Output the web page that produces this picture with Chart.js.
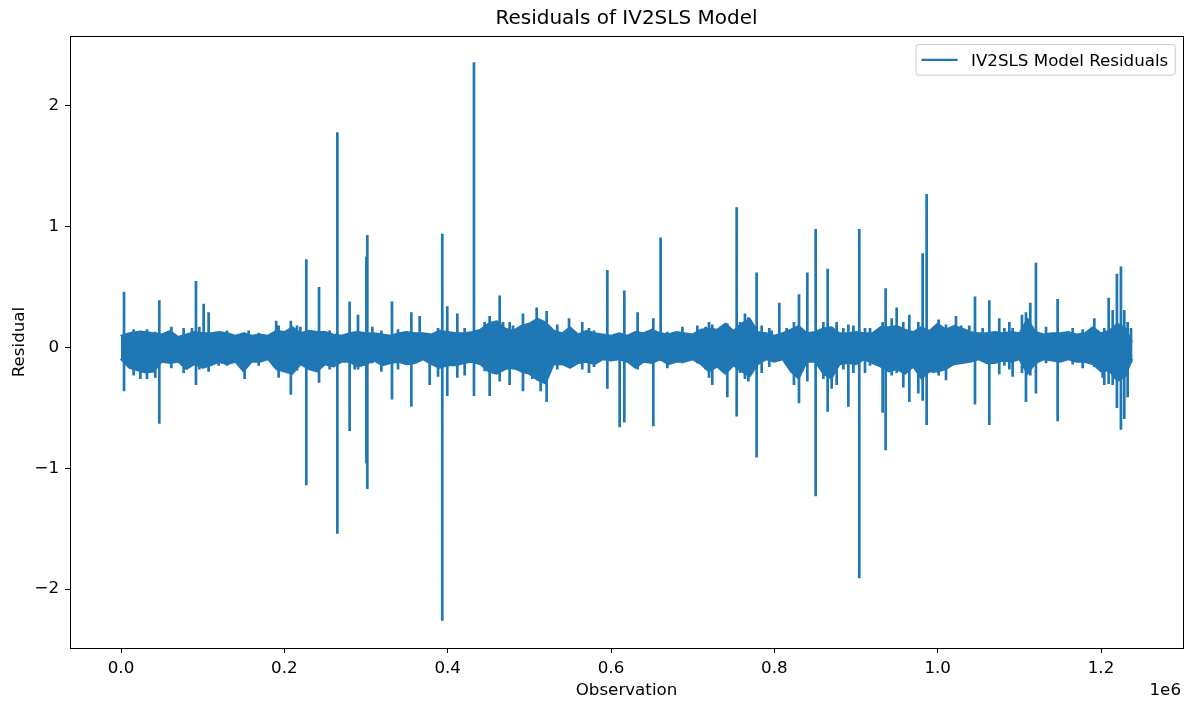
<!DOCTYPE html>
<html><head><meta charset="utf-8">
<script src="https://cdn.jsdelivr.net/npm/chart.js@4.4.1/dist/chart.umd.min.js"></script>
<style>html,body{margin:0;padding:0;background:#fff;overflow:hidden}canvas{display:block}</style>
</head><body>
<canvas id="c" width="1192" height="704"></canvas>
<script>
const chartTitle = 'Residuals of IV2SLS Model';
const seriesLabel = 'IV2SLS Model Residuals';
const xAxisLabel = 'Observation';
const yAxisLabel = 'Residual';
const xOffsetLabel = '1e6';
const xTickValues = [0, 200000, 400000, 600000, 800000, 1000000, 1200000];
const yTickValues = [-2, -1, 0, 1, 2];

// envelope of the dense residual band (observation, upper, lower)
const bandObs = [0,10000,20000,30000,40000,50000,60000,70000,80000,90000,
  100000,110000,120000,130000,140000,150000,160000,170000,180000,190000,
  200000,210000,220000,230000,240000,250000,260000,270000,280000,290000,
  300000,310000,320000,330000,340000,350000,360000,370000,380000,390000,
  400000,410000,420000,430000,440000,450000,460000,470000,480000,490000,
  500000,510000,520000,530000,540000,550000,560000,570000,580000,590000,
  600000,610000,620000,630000,640000,650000,660000,670000,680000,690000,
  700000,710000,720000,730000,740000,750000,760000,770000,780000,790000,
  800000,810000,820000,830000,840000,850000,860000,870000,880000,890000,
  900000,910000,920000,930000,940000,950000,960000,970000,980000,990000,
  1000000,1010000,1020000,1030000,1040000,1050000,1060000,1070000,1080000,1090000,
  1100000,1110000,1120000,1130000,1140000,1150000,1160000,1170000,1180000,1190000,
  1200000,1210000,1220000,1230000,1238000];
const bandUpper = [0.10,0.12,0.13,0.13,0.12,0.11,0.14,0.09,0.11,0.13,0.12,0.12,0.13,0.12,0.10,0.12,0.10,0.11,0.10,0.14,0.13,0.17,0.12,0.14,0.13,
  0.13,0.11,0.10,0.12,0.13,0.12,0.12,0.11,0.10,0.12,0.13,0.12,0.12,0.11,0.14,0.13,0.12,0.12,0.13,0.15,0.20,0.22,0.16,0.14,0.18,
  0.20,0.24,0.21,0.14,0.12,0.17,0.11,0.14,0.12,0.11,0.10,0.12,0.10,0.13,0.12,0.15,0.12,0.11,0.13,0.12,0.11,0.15,0.16,0.15,0.20,
  0.14,0.20,0.24,0.13,0.12,0.10,0.12,0.15,0.18,0.12,0.13,0.16,0.17,0.12,0.12,0.13,0.12,0.12,0.17,0.17,0.18,0.15,0.13,0.17,0.14,
  0.20,0.15,0.18,0.16,0.13,0.12,0.12,0.13,0.12,0.13,0.12,0.24,0.13,0.11,0.12,0.12,0.13,0.11,0.12,0.17,0.12,0.14,0.20,0.16,0.05];
const bandLower = [-0.10,-0.17,-0.19,-0.21,-0.20,-0.12,-0.13,-0.12,-0.18,-0.14,-0.17,-0.15,-0.12,-0.14,-0.12,-0.20,-0.12,-0.12,-0.10,-0.18,-0.20,-0.22,-0.14,-0.18,-0.20,
  -0.14,-0.16,-0.12,-0.12,-0.16,-0.14,-0.11,-0.15,-0.13,-0.12,-0.14,-0.13,-0.10,-0.14,-0.17,-0.15,-0.15,-0.13,-0.12,-0.14,-0.20,-0.22,-0.18,-0.17,-0.20,
  -0.22,-0.27,-0.30,-0.14,-0.14,-0.17,-0.13,-0.12,-0.14,-0.10,-0.11,-0.10,-0.12,-0.17,-0.12,-0.13,-0.10,-0.14,-0.12,-0.12,-0.10,-0.14,-0.20,-0.16,-0.22,
  -0.15,-0.20,-0.24,-0.14,-0.10,-0.12,-0.10,-0.20,-0.26,-0.12,-0.12,-0.22,-0.26,-0.14,-0.13,-0.14,-0.10,-0.13,-0.16,-0.20,-0.18,-0.22,-0.16,-0.26,-0.20,
  -0.20,-0.18,-0.14,-0.13,-0.12,-0.10,-0.13,-0.13,-0.11,-0.12,-0.10,-0.22,-0.13,-0.10,-0.11,-0.12,-0.10,-0.12,-0.12,-0.14,-0.20,-0.19,-0.28,-0.24,-0.10];

// individual excursions (observation, peak, trough)
const spikeObs = [3700,15500,23700,31800,42000,46900,61600,76700,86900,91800,
  95900,101200,107300,119600,129800,151400,156300,168600,190000,193000,
  208000,215500,219600,226900,242500,255500,264900,280000,286100,290200,
  300500,301600,307800,318800,331800,339200,348200,355500,365700,378000,
  388200,393400,399500,411800,420800,432200,445300,451400,463700,467800,
  475900,480000,492200,503700,509000,513900,521200,534200,548600,564800,
  573000,579200,595500,610600,616300,632600,651800,660800,669000,687400,
  705700,715900,720000,724000,742400,753900,758000,764000,768200,778300,
  784500,793800,796700,806100,815100,824000,830200,840400,850600,860000,
  865300,870200,876300,884500,890600,896800,904000,911000,917200,932600,
  936300,943700,949800,957900,965300,976300,981600,986500,994700,1001200,
  1010200,1016300,1022400,1028600,1038700,1045700,1055100,1063200,1075400,1081700,
  1087800,1091800,1103200,1108100,1113400,1120300,1132700,1146900,1165300,1177600,
  1191800,1202000,1204000,1209400,1214300,1219500,1224400,1228500,1232600,1236700];
const spikeTop = [0.45,0.14,0.13,0.14,0.12,0.38,0.16,0.15,0.15,0.54,
  0.16,0.35,0.28,0.12,0.13,0.11,0.13,0.11,0.21,0.17,
  0.21,0.17,0.16,0.72,0.49,0.13,1.77,0.37,0.12,0.26,
  0.74,0.92,0.16,0.13,0.37,0.14,0.12,0.28,0.25,0.05,
  0.15,0.93,0.33,0.27,0.15,2.35,0.20,0.25,0.42,0.20,
  0.20,0.17,0.27,0.20,0.32,0.10,0.29,0.18,0.23,0.20,
  0.15,0.13,0.63,0.10,0.46,0.28,0.23,0.90,0.12,0.16,
  0.17,0.16,0.20,0.18,0.19,1.15,0.20,0.27,0.24,0.61,
  0.17,0.15,0.13,0.36,0.15,0.20,0.43,0.61,0.97,0.20,
  0.64,0.15,0.20,0.15,0.18,0.17,0.97,0.15,0.15,0.20,
  0.48,0.23,0.32,0.20,0.26,0.20,0.77,1.26,0.15,0.22,
  0.18,0.14,0.25,0.17,0.17,0.41,0.15,0.38,0.23,0.15,
  0.20,0.15,0.26,0.28,0.36,0.69,0.16,0.39,0.15,0.14,
  0.23,0.10,0.15,0.40,0.30,0.60,0.66,0.30,0.20,0.15];
const spikeBottom = [-0.35,-0.22,-0.25,-0.25,-0.24,-0.62,-0.16,-0.20,-0.10,-0.30,
  -0.17,-0.05,-0.19,-0.14,-0.14,-0.25,-0.10,-0.14,-0.15,-0.24,
  -0.38,-0.18,-0.12,-1.13,-0.28,-0.17,-1.53,-0.68,-0.17,-0.17,
  -0.95,-1.16,-0.12,-0.19,-0.42,-0.17,-0.13,-0.48,-0.10,-0.30,
  -0.23,-2.25,-0.39,-0.24,-0.22,-0.39,-0.185,-0.39,-0.27,-0.185,
  -0.30,-0.17,-0.35,-0.25,-0.20,-0.35,-0.44,-0.17,-0.15,-0.17,
  -0.20,-0.15,-0.33,-0.65,-0.61,-0.17,-0.64,-0.10,-0.16,-0.12,
  -0.12,-0.17,-0.24,-0.30,-0.40,-0.56,-0.20,-0.25,-0.27,-0.90,
  -0.20,-0.15,-0.10,-0.10,-0.13,-0.30,-0.45,-0.27,-1.22,-0.25,
  -0.52,-0.33,-0.30,-0.17,-0.48,-0.20,-1.90,-0.20,-0.14,-0.53,
  -0.84,-0.22,-0.20,-0.32,-0.44,-0.37,-0.43,-0.63,-0.20,-0.22,
  -0.26,-0.12,-0.10,-0.12,-0.10,-0.46,-0.10,-0.63,-0.21,-0.14,
  -0.17,-0.23,-0.20,-0.44,-0.22,-0.37,-0.12,-0.60,-0.13,-0.16,
  -0.15,-0.24,-0.30,-0.29,-0.30,-0.49,-0.67,-0.58,-0.40,-0.12];

const BLUE = '#1f77b4';
const FONT = '"DejaVu Sans", "Liberation Sans", sans-serif';
const LABEL_PX = 16.7;
const TITLE_PX = 20;

const upperPts = bandObs.map((x, i) => ({x: x, y: bandUpper[i]}));
const lowerPts = bandObs.map((x, i) => ({x: x, y: bandLower[i]}));
const spikePts = [];
spikeObs.forEach((x, i) => {
  spikePts.push({x: x, y: spikeTop[i]}, {x: x, y: spikeBottom[i]}, {x: x, y: null});
});

const deco = {
  id: 'deco',
  afterDraw(chart) {
    const ctx = chart.ctx, a = chart.chartArea;
    ctx.save();
    // frame (all four spines)
    ctx.strokeStyle = '#000';
    ctx.lineWidth = 1;
    ctx.strokeRect(Math.round(a.left) + 0.5, Math.round(a.top) + 0.5,
      Math.round(a.right) - Math.round(a.left), Math.round(a.bottom) - Math.round(a.top));
    ctx.fillStyle = '#000';
    // title
    ctx.font = TITLE_PX + 'px ' + FONT;
    ctx.textAlign = 'center';
    ctx.textBaseline = 'alphabetic';
    ctx.fillText(chartTitle, (a.left + a.right) / 2, 24);
    // axis labels
    ctx.font = LABEL_PX + 'px ' + FONT;
    ctx.fillText(xAxisLabel, (a.left + a.right) / 2, 695);
    ctx.textAlign = 'right';
    ctx.fillText(xOffsetLabel, a.right - 2, 695);
    ctx.save();
    ctx.translate(23.5, (a.top + a.bottom) / 2);
    ctx.rotate(-Math.PI / 2);
    ctx.textAlign = 'center';
    ctx.fillText(yAxisLabel, 0, 0);
    ctx.restore();
    // legend
    const bx = a.right - 267, by = a.top + 8.5, bw = 259.3, bh = 30.7, r = 3;
    ctx.beginPath();
    ctx.moveTo(bx + r, by);
    ctx.lineTo(bx + bw - r, by); ctx.quadraticCurveTo(bx + bw, by, bx + bw, by + r);
    ctx.lineTo(bx + bw, by + bh - r); ctx.quadraticCurveTo(bx + bw, by + bh, bx + bw - r, by + bh);
    ctx.lineTo(bx + r, by + bh); ctx.quadraticCurveTo(bx, by + bh, bx, by + bh - r);
    ctx.lineTo(bx, by + r); ctx.quadraticCurveTo(bx, by, bx + r, by);
    ctx.closePath();
    ctx.fillStyle = 'rgba(255,255,255,0.8)';
    ctx.fill();
    ctx.strokeStyle = '#cccccc';
    ctx.lineWidth = 1;
    ctx.stroke();
    const ly = by + bh / 2;
    ctx.strokeStyle = BLUE;
    ctx.lineWidth = 2.2;
    ctx.beginPath();
    ctx.moveTo(bx + 5.5, ly); ctx.lineTo(bx + 41.5, ly);
    ctx.stroke();
    ctx.fillStyle = '#000';
    ctx.textAlign = 'left';
    ctx.textBaseline = 'alphabetic';
    ctx.font = LABEL_PX + 'px ' + FONT;
    ctx.fillText(chart.data.datasets[0].label, bx + 55, ly + 6);
    ctx.restore();
  }
};

const lineStyle = {
  borderColor: BLUE, borderWidth: 2.7, pointRadius: 0, tension: 0,
  borderJoinStyle: 'round', borderCapStyle: 'square'
};

new Chart(document.getElementById('c'), {
  type: 'line',
  data: {
    datasets: [
      Object.assign({label: seriesLabel, data: spikePts, spanGaps: false, fill: false}, lineStyle),
      Object.assign({label: seriesLabel + ' band+', data: upperPts, fill: '+1', backgroundColor: BLUE}, lineStyle, {borderWidth: 1.5}),
      Object.assign({label: seriesLabel + ' band-', data: lowerPts, fill: false}, lineStyle, {borderWidth: 1.5})
    ]
  },
  options: {
    responsive: false,
    animation: false,
    devicePixelRatio: 1,
    layout: {padding: {left: 0, top: 36, right: 9, bottom: 0}},
    plugins: {legend: {display: false}, title: {display: false}, tooltip: {enabled: false}},
    scales: {
      x: {
        type: 'linear', min: -62449, max: 1300400,
        afterFit(s) { s.height = 56; },
        afterBuildTicks(s) { s.ticks = xTickValues.map(v => ({value: v})); },
        grid: {display: true, drawOnChartArea: false, drawTicks: true, tickLength: 5, tickColor: '#000', lineWidth: 1},
        border: {display: true, color: '#000', width: 1},
        ticks: {color: '#000', font: {family: FONT, size: LABEL_PX}, padding: 6, maxRotation: 0, autoSkip: false,
          callback: v => (v / 1e6).toFixed(1)}
      },
      y: {
        type: 'linear', min: -2.4876, max: 2.5786,
        afterFit(s) { s.width = 70; },
        afterBuildTicks(s) { s.ticks = yTickValues.map(v => ({value: v})); },
        grid: {display: true, drawOnChartArea: false, drawTicks: true, tickLength: 5, tickColor: '#000', lineWidth: 1},
        border: {display: true, color: '#000', width: 1},
        ticks: {color: '#000', font: {family: FONT, size: LABEL_PX}, padding: 6, autoSkip: false,
          callback: v => (v < 0 ? '\u2212' + Math.abs(v) : String(v))}
      }
    }
  },
  plugins: [deco]
});
</script>
</body></html>
